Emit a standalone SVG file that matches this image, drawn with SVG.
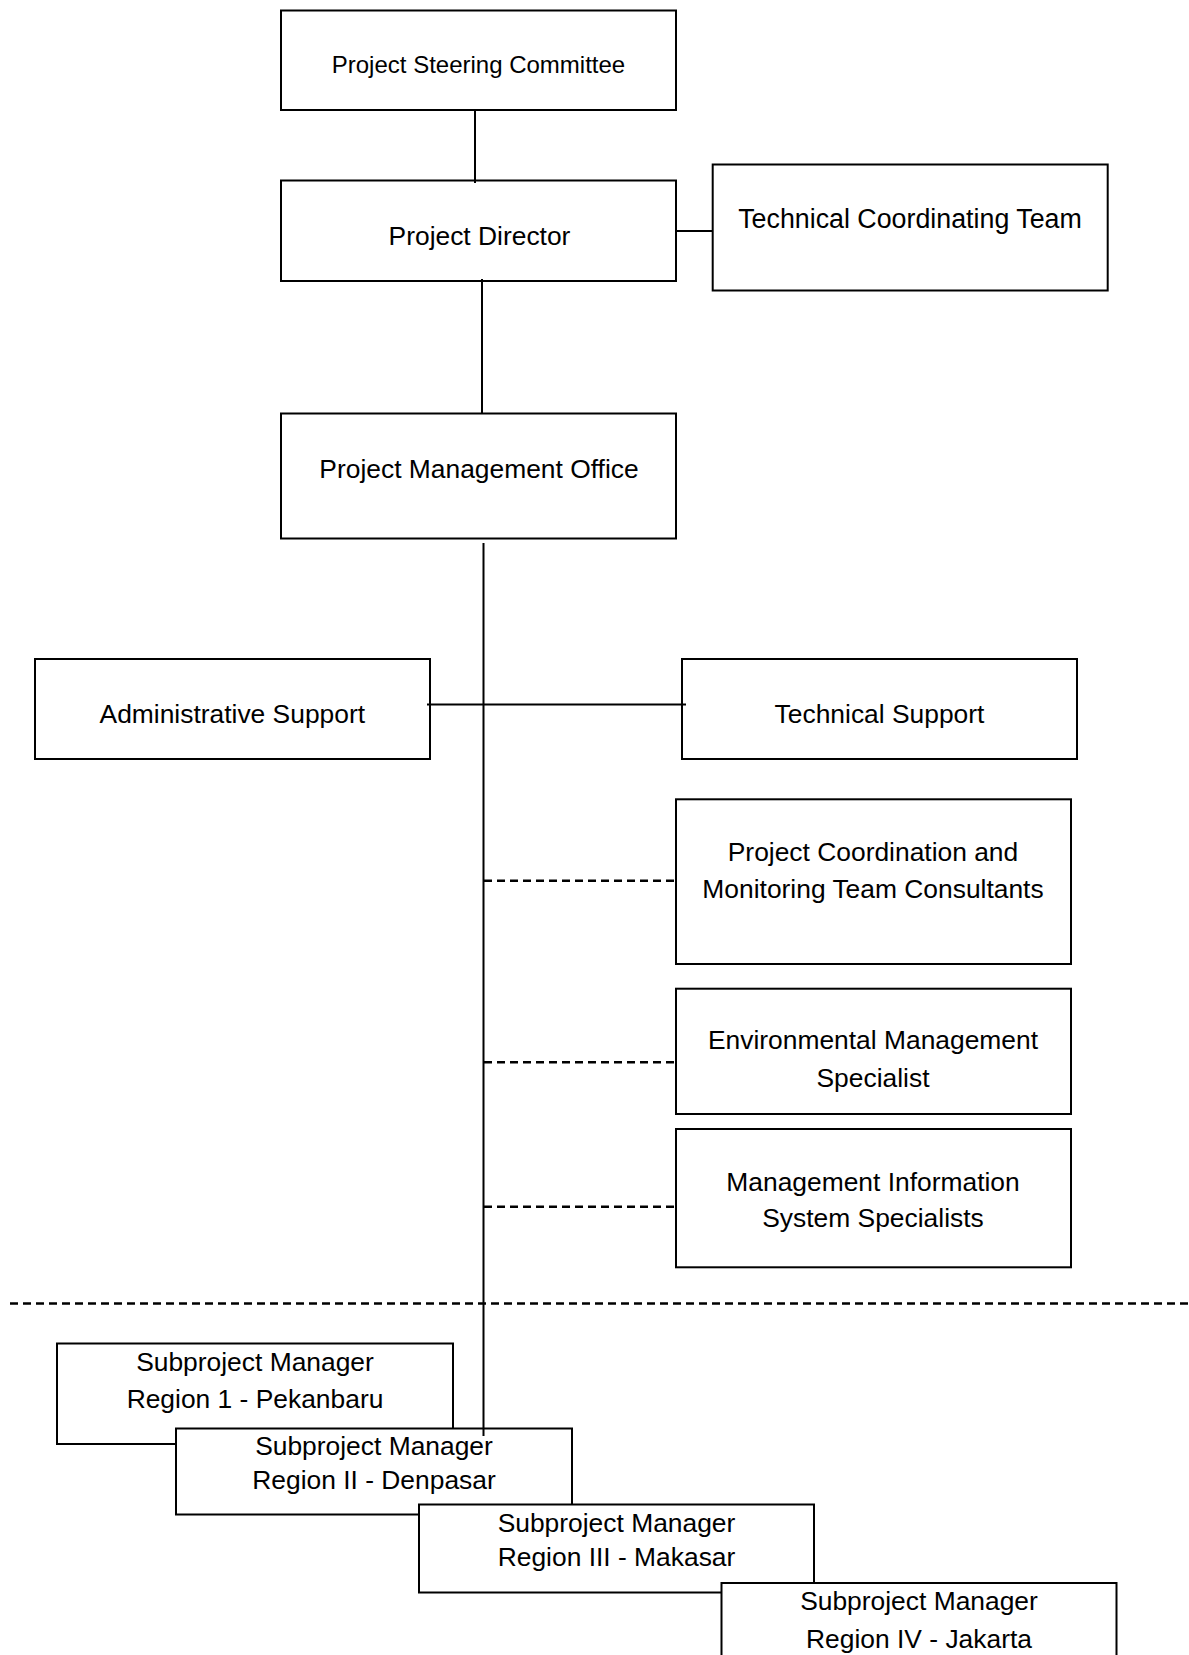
<svg xmlns="http://www.w3.org/2000/svg" width="1189" height="1655" viewBox="0 0 1189 1655">
<style>
.box{fill:#fff;stroke:#000;stroke-width:2}
.t{font-family:"Liberation Sans",Arial,sans-serif;font-size:26.4px;fill:#000;text-anchor:middle}
.ln{stroke:#000;stroke-width:2;fill:none}
.dl{stroke:#000;stroke-width:2.5;stroke-dasharray:8 5;fill:none}
</style>
<rect width="1189" height="1655" fill="#fff"/>
<g id="psc"><rect class="box" x="281" y="10.5" width="395" height="99.5"/><text class="t" x="478.5" y="73.3" style="font-size:24px">Project Steering Committee</text></g>
<g id="pd"><rect class="box" x="281" y="180.5" width="395" height="100.5"/><text class="t" x="479.5" y="244.8">Project Director</text></g>
<g id="tct"><rect class="box" x="712.7" y="164.5" width="395" height="126"/><text class="t" x="910" y="228" style="font-size:26.8px">Technical Coordinating Team</text></g>
<g id="pmo"><rect class="box" x="281" y="413.5" width="395" height="125"/><text class="t" x="479" y="477.5">Project Management Office</text></g>
<g id="admin"><rect class="box" x="35" y="659" width="395" height="100"/><text class="t" x="232.3" y="723.3">Administrative Support</text></g>
<g id="tech"><rect class="box" x="682" y="659" width="395" height="100"/><text class="t" x="879.5" y="723.3">Technical Support</text></g>
<g id="pcmtc"><rect class="box" x="676" y="799.3" width="395" height="164.7"/><text class="t" x="873" y="860.5">Project Coordination and</text><text class="t" x="873" y="898">Monitoring Team Consultants</text></g>
<g id="ems"><rect class="box" x="676" y="988.7" width="395" height="125.3"/><text class="t" x="873" y="1048.5">Environmental Management</text><text class="t" x="873" y="1086.5">Specialist</text></g>
<g id="mis"><rect class="box" x="676" y="1129" width="395" height="138.3"/><text class="t" x="873" y="1190.5">Management Information</text><text class="t" x="873" y="1227">System Specialists</text></g>
<g id="r1"><rect class="box" x="57" y="1343.5" width="396" height="100.5"/><text class="t" x="255" y="1371">Subproject Manager</text><text class="t" x="255" y="1408">Region 1 - Pekanbaru</text></g>
<g id="r2"><rect class="box" x="176" y="1428.5" width="396" height="86"/><text class="t" x="374" y="1454.5">Subproject Manager</text><text class="t" x="374" y="1489">Region II - Denpasar</text></g>
<g id="r3"><rect class="box" x="419" y="1504.5" width="395" height="88"/><text class="t" x="616.5" y="1532">Subproject Manager</text><text class="t" x="616.5" y="1566">Region III - Makasar</text></g>
<g id="r4"><rect class="box" x="721.5" y="1583" width="395" height="90"/><text class="t" x="919" y="1610">Subproject Manager</text><text class="t" x="919" y="1648">Region IV - Jakarta</text></g>
<g id="connectors">
<line class="ln" x1="475" y1="110" x2="475" y2="183"/>
<line class="ln" x1="676" y1="231" x2="712.7" y2="231"/>
<line class="ln" x1="482" y1="279" x2="482" y2="413.5"/>
<line class="ln" x1="483.5" y1="543" x2="483.5" y2="1436"/>
<line class="ln" x1="427" y1="704.5" x2="686" y2="704.5"/>
<line class="dl" x1="484" y1="880.7" x2="676" y2="880.7"/>
<line class="dl" x1="484" y1="1062.3" x2="676" y2="1062.3"/>
<line class="dl" x1="484" y1="1206.7" x2="676" y2="1206.7"/>
<line class="dl" x1="10" y1="1303.5" x2="1189" y2="1303.5"/>
</g>
</svg>
